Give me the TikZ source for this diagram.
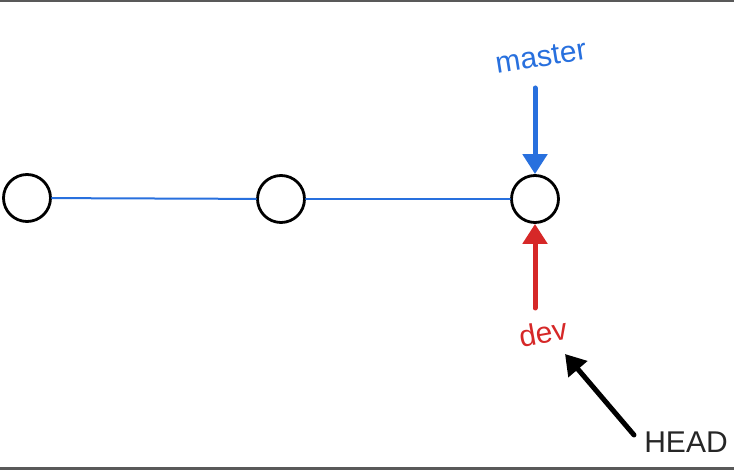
\documentclass[tikz,border=0pt]{standalone}
\usepackage{fontspec}
\setsansfont{Liberation Sans}
\usetikzlibrary{arrows.meta}
\begin{document}
\begin{tikzpicture}[line cap=round,line join=round,x=1pt,y=-1pt,
  commit/.style={circle,draw=black,line width=2.8pt,minimum size=47pt,inner sep=0pt,fill=white},
  ptr/.style={line width=5pt,-{Triangle[width=24pt,length=20pt]}},
  lbl/.style={font=\sffamily\fontsize{30}{30}\selectfont,inner sep=0pt}]
\definecolor{gitblue}{RGB}{40,112,222}
\definecolor{gitred}{RGB}{214,40,40}
\useasboundingbox (0,0) rectangle (734,470);
\fill[white] (0,0) rectangle (734,470);
\draw[line width=3pt,color=gray!70!black] (0,1) -- (734,1);
\draw[line width=3pt,color=gray!70!black] (0,468) -- (734,468);
% commits
\node[commit] (c1) at (27,198) {};
\node[commit] (c2) at (281,199) {};
\node[commit] (c3) at (535,199) {};
\draw[line width=2pt,color=gitblue] (c1) -- (c2);
\draw[line width=2pt,color=gitblue] (c2) -- (c3);
% branch labels
\node[lbl,text=gitblue,rotate=9] (master) at (541,57) {master};
\node[lbl,text=gitred,rotate=10] (dev) at (543,333) {dev};
\node[lbl,text=black!85] (head) at (686,442) {HEAD};
\coordinate (mtail) at (535,88);
\coordinate (dtail) at (535,308);
\coordinate (htail) at (634,435);
\coordinate (htip) at (565,354);
\draw[ptr,color=gitblue] (mtail) -- (c3.north);
\draw[ptr,color=gitred] (dtail) -- (c3.south);
\draw[ptr,color=black] (htail) -- (htip);
\end{tikzpicture}
\end{document}
